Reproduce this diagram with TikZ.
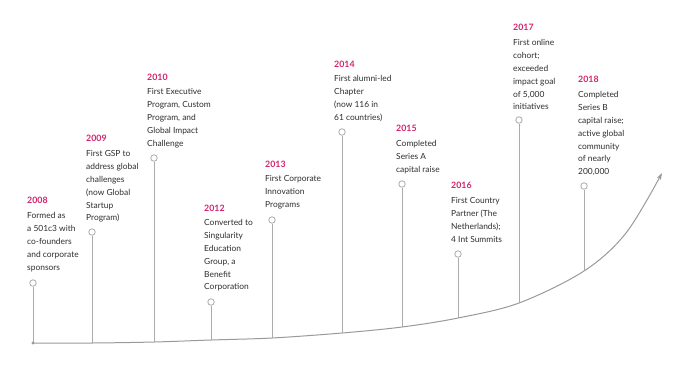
\documentclass[tikz,border=0pt]{standalone}
\usepackage{fontspec}
\setmainfont{Lato}
\usetikzlibrary{arrows.meta}
\definecolor{yearpink}{HTML}{D4226E}
\definecolor{bodygrey}{HTML}{2E2E2E}
\definecolor{stemgrey}{HTML}{ABABAB}
\definecolor{curvegrey}{HTML}{9A9A9A}
\tikzset{
  yearlbl/.style={anchor=west, inner sep=0pt, text=yearpink, font=\fontsize{8.8}{10}\selectfont\bfseries},
  bodylbl/.style={anchor=north west, inner sep=0pt, text=bodygrey, align=left, font=\fontsize{8.4}{12.8}\selectfont},
  pin/.style={circle, draw=stemgrey, fill=white, line width=0.8pt, minimum size=6.5pt, inner sep=0pt},
  stem/.style={draw=stemgrey, line width=1pt},
  curve/.style={draw=curvegrey, line width=1pt, -{Stealth[length=7pt,width=4.5pt]}}
}
\begin{document}
\begin{tikzpicture}[x=1pt,y=-1pt]
\useasboundingbox (0,0) rectangle (695,370);
\fill[white] (0,0) rectangle (695,370);
% points on the curve
\coordinate (b2008) at (33,343);
\coordinate (b2009) at (92,343);
\coordinate (b2010) at (154,342);
\coordinate (b2012) at (211,340);
\coordinate (b2013) at (272,338);
\coordinate (b2014) at (342,333);
\coordinate (b2015) at (402,327);
\coordinate (b2016) at (458,318);
\coordinate (b2017) at (519,303);
\coordinate (b2018) at (584,271);
\coordinate (m1) at (626,233);
\coordinate (tip) at (662,173);
\draw[curve] plot[smooth, tension=0.55] coordinates {(b2008) (b2009) (b2010) (b2012) (b2013) (b2014) (b2015) (b2016) (b2017) (b2018) (m1) (tip)};
% pins
\node[pin] (c2008) at (33,283) {};
\node[pin] (c2009) at (92,232) {};
\node[pin] (c2010) at (154,158) {};
\node[pin] (c2012) at (211,302) {};
\node[pin] (c2013) at (272,220) {};
\node[pin] (c2014) at (342,132) {};
\node[pin] (c2015) at (402,184) {};
\node[pin] (c2016) at (458,254) {};
\node[pin] (c2017) at (519,120) {};
\node[pin] (c2018) at (584,186) {};
\foreach \y in {2008,2009,2010,2012,2013,2014,2015,2016,2017,2018}{
  \draw[stem] (b\y) -- (c\y);
}
\fill[curvegrey] (b2008) circle (1.6pt);
% labels
\node[yearlbl] (y2008) at (27,200) {2008};
\node[bodylbl] (t2008) at (27,212.5) {Formed as\\a 501c3 with\\co-founders\\and corporate\\sponsors};
\node[yearlbl] (y2009) at (86,138) {2009};
\node[bodylbl] (t2009) at (86,150.5) {First GSP to\\address global\\challenges\\(now Global\\Startup\\Program)};
\node[yearlbl] (y2010) at (147,77) {2010};
\node[bodylbl] (t2010) at (147,88.5) {First Executive\\Program, Custom\\Program, and\\Global Impact\\Challenge};
\node[yearlbl] (y2012) at (204,208) {2012};
\node[bodylbl] (t2012) at (204,219.5) {Converted to\\Singularity\\Education\\Group, a\\Benefit\\Corporation};
\node[yearlbl] (y2013) at (265,164) {2013};
\node[bodylbl] (t2013) at (265,175.5) {First Corporate\\Innovation\\Programs};
\node[yearlbl] (y2014) at (334,64) {2014};
\node[bodylbl] (t2014) at (334,75.5) {First alumni-led\\Chapter\\(now 116 in\\61 countries)};
\node[yearlbl] (y2015) at (396,128) {2015};
\node[bodylbl] (t2015) at (396,140.5) {Completed\\Series A\\capital raise};
\node[yearlbl] (y2016) at (451,185) {2016};
\node[bodylbl] (t2016) at (451,197.5) {First Country\\Partner (The\\Netherlands);\\4 Int Summits};
\node[yearlbl] (y2017) at (513,27) {2017};
\node[bodylbl] (t2017) at (513,39.5) {First online\\cohort;\\exceeded\\impact goal\\of 5,000\\initiatives};
\node[yearlbl] (y2018) at (578,79) {2018};
\node[bodylbl] (t2018) at (578,91.5) {Completed\\Series B\\capital raise;\\active global\\community\\of nearly\\200,000};
\end{tikzpicture}
\end{document}
